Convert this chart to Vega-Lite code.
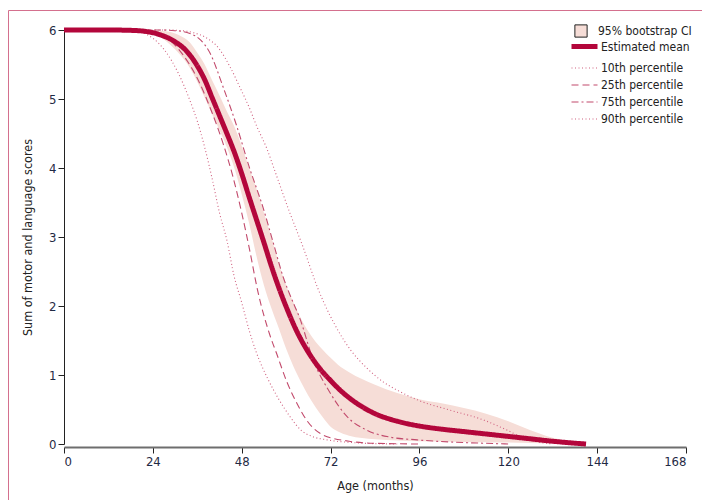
{
  "$schema": "https://vega.github.io/schema/vega-lite/v6.json",
  "width": 697,
  "height": 493,
  "autosize": "none",
  "padding": {"left": 8, "top": 10, "right": -3, "bottom": -3},
  "background": "white",
  "config": {
    "view": {"stroke": "#d4708e", "strokeWidth": 1},
    "font": "DejaVu Sans Condensed, Roboto Condensed, Roboto, sans-serif",
    "axis": {"grid": false, "labelFont": "DejaVu Sans Condensed, Roboto Condensed, Roboto, sans-serif", "titleFont": "DejaVu Sans Condensed, Roboto Condensed, Roboto, sans-serif", "titleFontWeight": "normal", "labelColor": "#1f2a44", "titleColor": "#222"},
    "legend": {"labelFont": "DejaVu Sans Condensed, Roboto Condensed, Roboto, sans-serif", "labelColor": "#222", "padding": 0}
  },
  "datasets": {
    "band": [
      {"age": 0, "lo": 6, "hi": 6},
      {"age": 18, "lo": 6, "hi": 6},
      {"age": 22, "lo": 5.98, "hi": 6},
      {"age": 24, "lo": 5.95, "hi": 6},
      {"age": 26, "lo": 5.9, "hi": 5.99},
      {"age": 28, "lo": 5.82, "hi": 5.98},
      {"age": 30, "lo": 5.72, "hi": 5.95},
      {"age": 32, "lo": 5.6, "hi": 5.9},
      {"age": 34, "lo": 5.45, "hi": 5.82},
      {"age": 36, "lo": 5.25, "hi": 5.67},
      {"age": 38, "lo": 5.02, "hi": 5.5},
      {"age": 40, "lo": 4.78, "hi": 5.27},
      {"age": 42, "lo": 4.55, "hi": 5.05},
      {"age": 44, "lo": 4.3, "hi": 4.82},
      {"age": 46, "lo": 4.0, "hi": 4.6},
      {"age": 48, "lo": 3.62, "hi": 4.32},
      {"age": 50, "lo": 3.2, "hi": 4.0},
      {"age": 52, "lo": 2.72, "hi": 3.7},
      {"age": 54, "lo": 2.3, "hi": 3.35},
      {"age": 56, "lo": 1.97, "hi": 3.0},
      {"age": 58, "lo": 1.68, "hi": 2.62},
      {"age": 60, "lo": 1.38, "hi": 2.3},
      {"age": 62, "lo": 1.12, "hi": 2.05},
      {"age": 64, "lo": 0.9, "hi": 1.82},
      {"age": 66, "lo": 0.7, "hi": 1.63},
      {"age": 68, "lo": 0.53, "hi": 1.48},
      {"age": 70, "lo": 0.38, "hi": 1.36},
      {"age": 72, "lo": 0.25, "hi": 1.25},
      {"age": 74, "lo": 0.18, "hi": 1.15},
      {"age": 77, "lo": 0.12, "hi": 1.04},
      {"age": 84, "lo": 0.07, "hi": 0.86},
      {"age": 90, "lo": 0.05, "hi": 0.74},
      {"age": 96, "lo": 0.04, "hi": 0.65},
      {"age": 102, "lo": 0.035, "hi": 0.59},
      {"age": 108, "lo": 0.03, "hi": 0.52},
      {"age": 114, "lo": 0.025, "hi": 0.44},
      {"age": 120, "lo": 0.02, "hi": 0.33},
      {"age": 126, "lo": 0.015, "hi": 0.2},
      {"age": 132, "lo": 0.01, "hi": 0.09},
      {"age": 136, "lo": 0.005, "hi": 0.04},
      {"age": 140, "lo": 0, "hi": 0}
    ],
    "lines": [
      {"series": "10th percentile", "age": 0, "score": 6},
      {"series": "10th percentile", "age": 16, "score": 6},
      {"series": "10th percentile", "age": 20, "score": 5.98},
      {"series": "10th percentile", "age": 24, "score": 5.88},
      {"series": "10th percentile", "age": 27, "score": 5.72},
      {"series": "10th percentile", "age": 31, "score": 5.36},
      {"series": "10th percentile", "age": 34, "score": 4.98},
      {"series": "10th percentile", "age": 36, "score": 4.68},
      {"series": "10th percentile", "age": 38, "score": 4.3},
      {"series": "10th percentile", "age": 40, "score": 3.85},
      {"series": "10th percentile", "age": 42, "score": 3.35},
      {"series": "10th percentile", "age": 44, "score": 2.95},
      {"series": "10th percentile", "age": 46, "score": 2.42},
      {"series": "10th percentile", "age": 48, "score": 2.05},
      {"series": "10th percentile", "age": 50, "score": 1.65},
      {"series": "10th percentile", "age": 52, "score": 1.32},
      {"series": "10th percentile", "age": 55, "score": 0.95},
      {"series": "10th percentile", "age": 58, "score": 0.65},
      {"series": "10th percentile", "age": 61, "score": 0.4},
      {"series": "10th percentile", "age": 64, "score": 0.2},
      {"series": "10th percentile", "age": 67, "score": 0.11},
      {"series": "10th percentile", "age": 71, "score": 0.06},
      {"series": "10th percentile", "age": 78, "score": 0.02},
      {"series": "10th percentile", "age": 84, "score": 0.005},
      {"series": "10th percentile", "age": 90, "score": 0},
      {"series": "25th percentile", "age": 0, "score": 6},
      {"series": "25th percentile", "age": 18, "score": 6},
      {"series": "25th percentile", "age": 24, "score": 5.97},
      {"series": "25th percentile", "age": 28, "score": 5.88},
      {"series": "25th percentile", "age": 32, "score": 5.65},
      {"series": "25th percentile", "age": 36, "score": 5.3},
      {"series": "25th percentile", "age": 40, "score": 4.8},
      {"series": "25th percentile", "age": 43, "score": 4.35},
      {"series": "25th percentile", "age": 45.5, "score": 3.9},
      {"series": "25th percentile", "age": 48, "score": 3.35},
      {"series": "25th percentile", "age": 50, "score": 2.85},
      {"series": "25th percentile", "age": 52.4, "score": 2.2},
      {"series": "25th percentile", "age": 55.6, "score": 1.58},
      {"series": "25th percentile", "age": 57.5, "score": 1.3},
      {"series": "25th percentile", "age": 60.2, "score": 0.9},
      {"series": "25th percentile", "age": 63, "score": 0.58},
      {"series": "25th percentile", "age": 65.6, "score": 0.34},
      {"series": "25th percentile", "age": 70, "score": 0.13},
      {"series": "25th percentile", "age": 77, "score": 0.04},
      {"series": "25th percentile", "age": 84, "score": 0.01},
      {"series": "25th percentile", "age": 96, "score": 0},
      {"series": "75th percentile", "age": 0, "score": 6},
      {"series": "75th percentile", "age": 26, "score": 6},
      {"series": "75th percentile", "age": 30, "score": 5.99},
      {"series": "75th percentile", "age": 34, "score": 5.95},
      {"series": "75th percentile", "age": 37, "score": 5.85},
      {"series": "75th percentile", "age": 39.4, "score": 5.67},
      {"series": "75th percentile", "age": 43, "score": 5.17},
      {"series": "75th percentile", "age": 46.7, "score": 4.6},
      {"series": "75th percentile", "age": 50, "score": 4.02},
      {"series": "75th percentile", "age": 53.8, "score": 3.42},
      {"series": "75th percentile", "age": 56.5, "score": 2.92},
      {"series": "75th percentile", "age": 59.2, "score": 2.42},
      {"series": "75th percentile", "age": 61.5, "score": 2.1},
      {"series": "75th percentile", "age": 63.7, "score": 1.82},
      {"series": "75th percentile", "age": 67.3, "score": 1.22},
      {"series": "75th percentile", "age": 71.9, "score": 0.74},
      {"series": "75th percentile", "age": 76.4, "score": 0.4},
      {"series": "75th percentile", "age": 81.8, "score": 0.2},
      {"series": "75th percentile", "age": 88, "score": 0.1},
      {"series": "75th percentile", "age": 95.4, "score": 0.06},
      {"series": "75th percentile", "age": 104, "score": 0.03},
      {"series": "75th percentile", "age": 114, "score": 0.01},
      {"series": "75th percentile", "age": 120, "score": 0},
      {"series": "90th percentile", "age": 0, "score": 6},
      {"series": "90th percentile", "age": 28, "score": 6},
      {"series": "90th percentile", "age": 32, "score": 5.99},
      {"series": "90th percentile", "age": 35, "score": 5.96},
      {"series": "90th percentile", "age": 38, "score": 5.9},
      {"series": "90th percentile", "age": 42, "score": 5.72},
      {"series": "90th percentile", "age": 45, "score": 5.45},
      {"series": "90th percentile", "age": 47.5, "score": 5.17},
      {"series": "90th percentile", "age": 50, "score": 4.88},
      {"series": "90th percentile", "age": 52.1, "score": 4.6},
      {"series": "90th percentile", "age": 54.8, "score": 4.28},
      {"series": "90th percentile", "age": 57, "score": 3.95},
      {"series": "90th percentile", "age": 61, "score": 3.35},
      {"series": "90th percentile", "age": 64.6, "score": 2.85},
      {"series": "90th percentile", "age": 68.6, "score": 2.25},
      {"series": "90th percentile", "age": 71.5, "score": 1.9},
      {"series": "90th percentile", "age": 74.5, "score": 1.6},
      {"series": "90th percentile", "age": 77.3, "score": 1.37},
      {"series": "90th percentile", "age": 81.8, "score": 1.1},
      {"series": "90th percentile", "age": 86.2, "score": 0.9},
      {"series": "90th percentile", "age": 90, "score": 0.78},
      {"series": "90th percentile", "age": 95.4, "score": 0.64},
      {"series": "90th percentile", "age": 104.3, "score": 0.49},
      {"series": "90th percentile", "age": 113.2, "score": 0.35},
      {"series": "90th percentile", "age": 119.7, "score": 0.2},
      {"series": "90th percentile", "age": 124, "score": 0.09},
      {"series": "90th percentile", "age": 128, "score": 0.03},
      {"series": "90th percentile", "age": 132, "score": 0},
      {"series": "Estimated mean", "age": 0, "score": 6},
      {"series": "Estimated mean", "age": 12, "score": 6},
      {"series": "Estimated mean", "age": 18, "score": 5.995},
      {"series": "Estimated mean", "age": 22, "score": 5.98},
      {"series": "Estimated mean", "age": 26, "score": 5.93},
      {"series": "Estimated mean", "age": 30, "score": 5.83},
      {"series": "Estimated mean", "age": 33, "score": 5.7},
      {"series": "Estimated mean", "age": 36, "score": 5.48},
      {"series": "Estimated mean", "age": 38, "score": 5.28},
      {"series": "Estimated mean", "age": 40, "score": 5.02},
      {"series": "Estimated mean", "age": 42, "score": 4.76},
      {"series": "Estimated mean", "age": 44, "score": 4.5},
      {"series": "Estimated mean", "age": 46, "score": 4.23},
      {"series": "Estimated mean", "age": 48, "score": 3.92},
      {"series": "Estimated mean", "age": 50, "score": 3.58},
      {"series": "Estimated mean", "age": 52, "score": 3.25},
      {"series": "Estimated mean", "age": 54, "score": 2.92},
      {"series": "Estimated mean", "age": 56, "score": 2.58},
      {"series": "Estimated mean", "age": 58, "score": 2.27},
      {"series": "Estimated mean", "age": 60, "score": 1.99},
      {"series": "Estimated mean", "age": 63, "score": 1.62},
      {"series": "Estimated mean", "age": 66, "score": 1.33},
      {"series": "Estimated mean", "age": 69, "score": 1.1},
      {"series": "Estimated mean", "age": 72, "score": 0.92},
      {"series": "Estimated mean", "age": 75, "score": 0.76},
      {"series": "Estimated mean", "age": 78, "score": 0.63},
      {"series": "Estimated mean", "age": 84, "score": 0.44},
      {"series": "Estimated mean", "age": 90, "score": 0.33},
      {"series": "Estimated mean", "age": 96, "score": 0.26},
      {"series": "Estimated mean", "age": 102, "score": 0.215},
      {"series": "Estimated mean", "age": 108, "score": 0.18},
      {"series": "Estimated mean", "age": 114, "score": 0.145},
      {"series": "Estimated mean", "age": 120, "score": 0.11},
      {"series": "Estimated mean", "age": 126, "score": 0.075},
      {"series": "Estimated mean", "age": 132, "score": 0.04},
      {"series": "Estimated mean", "age": 138, "score": 0.012},
      {"series": "Estimated mean", "age": 141, "score": 0}
    ]
  },
  "layer": [
    {
      "data": {"name": "band"},
      "mark": {"type": "area", "interpolate": "monotone"},
      "encoding": {
        "x": {
          "field": "age", "type": "quantitative",
          "scale": {"domain": [0, 168], "range": [56, 678], "nice": false, "zero": false},
          "axis": {"title": "Age (months)", "values": [0, 24, 48, 72, 96, 120, 144, 168], "format": "d", "offset": -56, "domainColor": "#6e6e6e", "domainWidth": 2, "tickColor": "#222", "tickWidth": 1, "tickSize": 6, "labelFontSize": 13, "labelPadding": 2, "titleFontSize": 12.5, "titlePadding": 11}
        },
        "y": {
          "field": "lo", "type": "quantitative",
          "scale": {"domain": [0, 6], "range": [434, 20], "nice": false, "zero": false},
          "axis": {"title": "Sum of motor and language scores", "values": [0, 1, 2, 3, 4, 5, 6], "format": "d", "offset": -56, "domainColor": "#222", "domainWidth": 1, "tickColor": "#222", "tickWidth": 1, "tickSize": 6, "labelFontSize": 13, "labelPadding": 2, "titleFontSize": 12.5, "titlePadding": 14}
        },
        "y2": {"field": "hi"},
        "fill": {
          "datum": "95% bootstrap CI", "type": "nominal",
          "scale": {"domain": ["95% bootstrap CI"], "range": ["#f6ddd7"]},
          "legend": {"title": null, "orient": "none", "legendX": 566, "legendY": 14, "symbolType": "square", "symbolSize": 150, "labelFontSize": 12, "labelOffset": 10,
            "encode": {"symbols": {"update": {"stroke": {"value": "#222"}, "strokeWidth": {"value": 1}, "fillOpacity": {"value": 1}}}}}
        }
      }
    },
    {
      "data": {"name": "lines"},
      "mark": {"type": "line", "interpolate": "monotone"},
      "encoding": {
        "x": {"field": "age", "type": "quantitative", "scale": {"domain": [0, 168], "range": [56, 678], "nice": false, "zero": false}},
        "y": {"field": "score", "type": "quantitative", "scale": {"domain": [0, 6], "range": [434, 20], "nice": false, "zero": false}},
        "stroke": {
          "field": "series", "type": "nominal",
          "scale": {"domain": ["Estimated mean", "10th percentile", "25th percentile", "75th percentile", "90th percentile"], "range": ["#b3063b", "#d0607f", "#c24a6c", "#c24a6c", "#d0607f"]},
          "legend": {"title": null, "orient": "none", "legendX": 564, "legendY": 24, "symbolType": "M-1.3,0H1.3", "symbolSize": 400, "labelFontSize": 12, "labelOffset": 4, "rowPadding": -1}
        },
        "strokeDash": {
          "field": "series", "type": "nominal",
          "scale": {"domain": ["Estimated mean", "10th percentile", "25th percentile", "75th percentile", "90th percentile"], "range": [[1, 0], [1, 2.5], [7, 4], [7, 3, 2, 3], [1, 2.5]]},
          "legend": {"title": null, "orient": "none", "legendX": 564, "legendY": 24, "symbolType": "M-1.3,0H1.3", "symbolSize": 400, "labelFontSize": 12, "labelOffset": 4, "rowPadding": -1}
        },
        "strokeWidth": {
          "field": "series", "type": "nominal",
          "scale": {"type": "ordinal", "domain": ["Estimated mean", "10th percentile", "25th percentile", "75th percentile", "90th percentile"], "range": [5, 1.1, 1.1, 1.1, 1.1]},
          "legend": {"title": null, "orient": "none", "legendX": 564, "legendY": 24, "symbolType": "M-1.3,0H1.3", "symbolSize": 400, "labelFontSize": 12, "labelOffset": 4, "rowPadding": -1}
        },
        "order": {"field": "age", "type": "quantitative"}
      }
    }
  ]
}
